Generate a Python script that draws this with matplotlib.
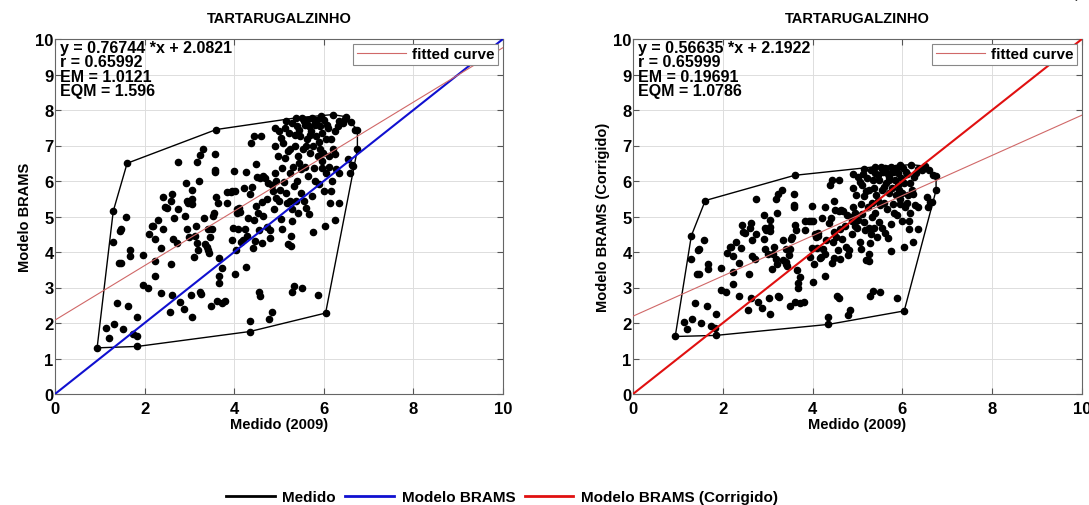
import matplotlib
matplotlib.use("Agg")
import matplotlib.pyplot as plt
from matplotlib.lines import Line2D
import numpy as np

plt.rcParams["font.family"] = ["Liberation Sans", "DejaVu Sans"]
plt.rcParams["font.weight"] = "bold"

# ----- Dados ----- #
medido = [
    0.94, 1.13, 1.21, 1.30, 1.30, 1.32, 1.38, 1.42, 1.44, 1.47, 1.47, 1.52, 1.61, 1.59, 1.64,
    1.67, 1.68, 1.74, 1.82, 1.84, 1.84, 1.96, 1.97, 2.08, 2.10, 2.16, 2.19, 2.23, 2.23, 2.23,
    2.30, 2.36, 2.37, 2.40, 2.42, 2.45, 2.49, 2.56, 2.58, 2.60, 2.62, 2.62, 2.64, 2.66, 2.72,
    2.74, 2.75, 2.79, 2.87, 2.91, 2.92, 2.95, 2.95, 2.97, 3.00, 3.03, 3.05, 3.06, 3.06, 3.06,
    3.10, 3.12, 3.15, 3.18, 3.18, 3.20, 3.21, 3.23, 3.24, 3.26, 3.31, 3.33, 3.35, 3.40, 3.41,
    3.41, 3.44, 3.47, 3.49, 3.50, 3.52, 3.55, 3.58, 3.58, 3.58, 3.60, 3.60, 3.61, 3.64, 3.66,
    3.67, 3.67, 3.72, 3.73, 3.80, 3.83, 3.84, 3.92, 3.95, 3.96, 3.98, 3.99, 4.01, 4.02, 4.04,
    4.06, 4.07, 4.09, 4.11, 4.13, 4.16, 4.19, 4.22, 4.24, 4.27, 4.27, 4.28, 4.30, 4.35, 4.35,
    4.36, 4.38, 4.40, 4.43, 4.44, 4.45, 4.47, 4.48, 4.48, 4.51, 4.53, 4.55, 4.56, 4.58, 4.58,
    4.59, 4.61, 4.62, 4.64, 4.65, 4.68, 4.73, 4.74, 4.76, 4.78, 4.79, 4.80, 4.84, 4.85, 4.87,
    4.88, 4.90, 4.90, 4.91, 4.94, 4.94, 4.97, 4.99, 5.02, 5.05, 5.07, 5.07, 5.09, 5.11, 5.13,
    5.14, 5.15, 5.17, 5.19, 5.20, 5.22, 5.24, 5.25, 5.26, 5.26, 5.28, 5.28, 5.29, 5.30, 5.32,
    5.33, 5.34, 5.36, 5.37, 5.39, 5.40, 5.42, 5.43, 5.45, 5.47, 5.48, 5.50, 5.51, 5.52, 5.54,
    5.55, 5.57, 5.59, 5.61, 5.62, 5.63, 5.65, 5.66, 5.68, 5.70, 5.71, 5.74, 5.74, 5.75, 5.77,
    5.78, 5.80, 5.81, 5.83, 5.85, 5.86, 5.87, 5.89, 5.91, 5.92, 5.94, 5.95, 5.97, 5.98, 6.00,
    6.01, 6.03, 6.04, 6.04, 6.06, 6.08, 6.11, 6.12, 6.14, 6.15, 6.17, 6.18, 6.20, 6.21, 6.24,
    6.26, 6.27, 6.31, 6.34, 6.35, 6.47, 6.50, 6.54, 6.58, 6.62, 6.60, 6.66, 6.69, 6.75, 6.75,
    6.43, 6.24, 5.55, 5.80, 5.35, 5.60, 5.45, 5.90, 5.25, 5.05, 5.15, 5.70, 6.10, 5.40, 6.35,
    5.00, 5.95,
]
modelo_brams = [
    1.30, 1.85, 1.57, 5.15, 4.27, 1.96, 2.56, 3.70, 4.59, 3.68, 4.64, 1.83, 6.50, 5.00, 2.48,
    3.89, 4.06, 1.69, 1.62, 1.34, 2.16, 3.91, 3.06, 3.00, 4.50, 4.73, 4.73, 4.38, 3.75, 3.31,
    4.90, 4.12, 2.84, 4.66, 5.56, 5.28, 5.24, 2.30, 3.67, 5.44, 2.78, 5.62, 4.38, 4.97, 4.26,
    6.54, 5.20, 2.60, 2.39, 5.01, 5.95, 5.44, 4.64, 5.37, 4.43, 2.78, 5.76, 2.16, 5.48, 5.34,
    3.87, 4.45, 4.73, 4.26, 6.53, 4.06, 6.00, 2.86, 6.72, 2.81, 6.91, 4.97, 4.22, 4.15, 4.64,
    4.06, 3.98, 4.41, 2.48, 4.64, 5.01, 5.11, 6.31, 6.25, 6.75, 7.45, 5.56, 2.62, 5.37, 3.84,
    3.33, 3.14, 3.56, 2.56, 2.62, 5.37, 5.69, 5.69, 4.34, 5.72, 4.69, 6.28, 5.72, 3.37, 4.06,
    5.22, 5.11, 4.66, 5.25, 5.13, 4.28, 4.34, 5.81, 4.64, 6.25, 3.59, 4.45, 4.97, 2.06, 1.76,
    5.62, 7.08, 5.83, 4.10, 7.28, 4.90, 4.31, 5.30, 6.47, 6.12, 5.11, 2.86, 4.62, 2.77, 6.09,
    7.28, 4.25, 5.42, 6.14, 5.01, 6.09, 5.50, 4.71, 5.95, 2.11, 4.40, 4.62, 2.30, 5.88, 5.72,
    5.22, 7.50, 6.98, 6.23, 5.53, 6.00, 6.70, 5.44, 5.76, 4.92, 4.64, 6.37, 7.08, 5.97, 7.50,
    6.65, 5.67, 5.37, 4.22, 6.84, 7.36, 6.23, 5.44, 4.45, 4.17, 2.86, 4.88, 5.20, 7.64, 6.40,
    5.86, 3.05, 6.98, 5.44, 7.78, 6.00, 6.70, 5.11, 7.45, 7.26, 5.67, 6.33, 3.00, 7.78, 6.89,
    5.44, 7.59, 6.40, 5.24, 7.73, 7.17, 6.15, 7.55, 5.06, 6.79, 7.40, 7.78, 5.58, 4.56, 6.98,
    6.36, 7.59, 6.00, 7.26, 7.73, 6.70, 2.78, 5.92, 7.55, 6.89, 7.83, 6.36, 7.36, 6.79, 5.72,
    7.73, 4.73, 2.28, 7.17, 6.23, 7.59, 6.40, 6.70, 5.39, 5.72, 7.17, 6.00, 7.87, 6.89, 4.90,
    7.40, 6.33, 7.55, 5.39, 6.23, 7.75, 7.81, 6.61, 6.23, 6.46, 7.65, 6.42, 7.45, 7.43, 6.89,
    7.64, 6.75, 7.70, 7.65, 7.30, 7.00, 6.50, 7.10, 6.90, 7.20, 7.70, 7.30, 7.50, 7.55, 7.70,
    7.40, 6.55,
]
modelo_brams_corrigido = [
    1.62, 2.03, 1.82, 4.46, 3.81, 2.11, 2.55, 3.39, 4.05, 3.38, 4.08, 2.01, 5.45, 4.35, 2.49,
    3.53, 3.66, 1.91, 1.86, 1.65, 2.25, 3.54, 2.92, 2.87, 3.98, 4.15, 4.15, 3.89, 3.43, 3.10,
    4.27, 3.70, 2.75, 4.10, 4.76, 4.55, 4.53, 2.36, 3.37, 4.67, 2.71, 4.81, 3.89, 4.33, 3.80,
    5.48, 4.50, 2.58, 2.42, 4.36, 5.05, 4.67, 4.08, 4.62, 3.93, 2.71, 4.91, 2.25, 4.70, 4.60,
    3.52, 3.94, 4.15, 3.80, 5.48, 3.66, 5.09, 2.77, 5.62, 2.73, 5.76, 4.33, 3.77, 3.72, 4.08,
    3.66, 3.60, 3.91, 2.49, 4.08, 4.36, 4.43, 5.31, 5.27, 5.64, 6.16, 4.76, 2.59, 4.62, 3.49,
    3.12, 2.98, 3.29, 2.55, 2.59, 4.62, 4.86, 4.86, 3.86, 4.88, 4.12, 5.29, 4.88, 3.15, 3.66,
    4.51, 4.43, 4.10, 4.53, 4.44, 3.82, 3.86, 4.95, 4.08, 5.27, 3.31, 3.94, 4.33, 2.18, 1.96,
    4.81, 5.88, 4.96, 3.68, 6.03, 4.27, 3.84, 4.57, 5.43, 5.17, 4.43, 2.77, 4.07, 2.70, 5.15,
    6.03, 3.80, 4.66, 5.19, 4.36, 5.15, 4.72, 4.13, 5.05, 2.22, 3.91, 4.07, 2.36, 5.00, 4.88,
    4.51, 6.19, 5.81, 5.26, 4.74, 5.09, 5.60, 4.67, 4.91, 4.29, 4.08, 5.36, 5.88, 5.06, 6.19,
    5.57, 4.84, 4.62, 3.77, 5.71, 6.09, 5.26, 4.67, 3.94, 3.74, 2.77, 4.26, 4.50, 6.30, 5.38,
    4.98, 2.91, 5.81, 4.67, 6.40, 5.09, 5.60, 4.43, 6.16, 6.02, 4.84, 5.33, 2.87, 6.40, 5.74,
    4.67, 6.26, 5.38, 4.53, 6.36, 5.95, 5.20, 6.23, 4.39, 5.67, 6.12, 6.40, 4.78, 4.02, 5.81,
    5.35, 6.26, 5.09, 6.02, 6.36, 5.60, 2.71, 5.03, 6.23, 5.74, 6.44, 5.35, 6.09, 5.67, 4.88,
    6.36, 4.15, 2.34, 5.95, 5.26, 6.26, 5.38, 5.60, 4.64, 4.88, 5.95, 5.09, 6.46, 5.74, 4.27,
    6.12, 5.33, 6.23, 4.64, 5.26, 6.38, 6.42, 5.54, 5.26, 5.42, 6.30, 5.40, 6.16, 6.14, 5.74,
    6.30, 5.64, 6.34, 6.30, 6.04, 5.82, 5.45, 5.90, 5.75, 5.97, 6.34, 6.04, 6.19, 6.23, 6.34,
    6.12, 5.49,
]

# coeficientes do ajuste e estatísticas (texto do gráfico)
ajuste_esq = (0.76744, 2.0821)
ajuste_dir = (0.56635, 2.1922)
stats_esq = ["y = 0.76744 *x + 2.0821", "r = 0.65992", "EM = 1.0121", "EQM = 1.596"]
stats_dir = ["y = 0.56635 *x + 2.1922", "r = 0.65999", "EM = 0.19691", "EQM = 1.0786"]
titulo = "TARTARUGALZINHO"


def convex_hull(x, y):
    """Envoltória convexa (monotone chain), fechada."""
    pts = sorted(set(zip(x, y)))

    def cross(o, a, b):
        return (a[0] - o[0]) * (b[1] - o[1]) - (a[1] - o[1]) * (b[0] - o[0])

    lower, upper = [], []
    for p in pts:
        while len(lower) >= 2 and cross(lower[-2], lower[-1], p) <= 0:
            lower.pop()
        lower.append(p)
    for p in reversed(pts):
        while len(upper) >= 2 and cross(upper[-2], upper[-1], p) <= 0:
            upper.pop()
        upper.append(p)
    hull = lower[:-1] + upper
    return [p[0] for p in hull], [p[1] for p in hull]


def painel(ax, x, y, ajuste, stats, cor_11, ylabel):
    hx, hy = convex_hull(x, y)
    ax.plot(hx, hy, color="black", linewidth=1.0, zorder=2)
    ax.scatter(x, y, s=20, color="black", zorder=3)
    ax.plot([0, 10], [0, 10], color=cor_11, linewidth=1.5, zorder=4)
    xs = np.array([0, 10])
    ax.plot(xs, ajuste[0] * xs + ajuste[1], color="#d06868", linewidth=0.8,
            zorder=4, label="fitted curve")
    ax.set_xlim(0, 10)
    ax.set_ylim(0, 10)
    ax.set_xticks(range(0, 11, 2))
    ax.set_yticks(range(0, 11))
    ax.grid(True, color="#dddddd", linewidth=0.7)
    ax.set_axisbelow(True)
    ax.tick_params(direction="in", top=True, right=True, labelsize=12, length=4,
                   pad=1, color="#555555")
    ax.tick_params(axis="x", pad=5)
    for s in ax.spines.values():
        s.set_color("#666666")
    ax.set_title(titulo, fontsize=10.5, fontweight="bold", pad=12)
    ax.set_xlabel("Medido (2009)", fontsize=10.5, fontweight="bold", labelpad=1)
    ax.set_ylabel(ylabel, fontsize=10.5, fontweight="bold", labelpad=2)
    ax.text(0.012, 0.998, "\n".join(stats), transform=ax.transAxes, va="top",
            ha="left", fontsize=11.5, fontweight="bold", linespacing=0.95)
    leg = ax.legend(loc="upper right", fontsize=11, handlelength=3.2,
                    borderaxespad=0.3, fancybox=False, framealpha=1,
                    borderpad=0.25, handletextpad=0.4)
    leg.get_frame().set_edgecolor("#888888")
    leg.get_frame().set_linewidth(0.8)


fig = plt.figure(figsize=(10.89, 5.06), dpi=100)
ax1 = fig.add_axes([55 / 1089, 111 / 506, 448 / 1089, 355 / 506])
ax2 = fig.add_axes([633 / 1089, 111 / 506, 449 / 1089, 355 / 506])

painel(ax1, medido, modelo_brams, ajuste_esq, stats_esq, "#1010d0", "Modelo BRAMS")
painel(ax2, medido, modelo_brams_corrigido, ajuste_dir, stats_dir, "#e01010",
       "Modelo BRAMS (Corrigido)")

handles = [
    Line2D([], [], color="black", linewidth=2),
    Line2D([], [], color="#1010d0", linewidth=2),
    Line2D([], [], color="#e01010", linewidth=2),
]
fig.legend(handles, ["Medido", "Modelo BRAMS", "Modelo BRAMS (Corrigido)"],
           loc="center", bbox_to_anchor=(502 / 1089, 8 / 506), ncol=3,
           frameon=False, fontsize=11, handlelength=3.2, columnspacing=0.6,
           handletextpad=0.5)

# texto cortado no canto superior direito da imagem original
fig.text(1072 / 1089, 1.012, "(Cont", fontsize=12, va="center", ha="left",
         fontweight="normal", color="#333333")

fig.savefig("out.png", dpi=100)
